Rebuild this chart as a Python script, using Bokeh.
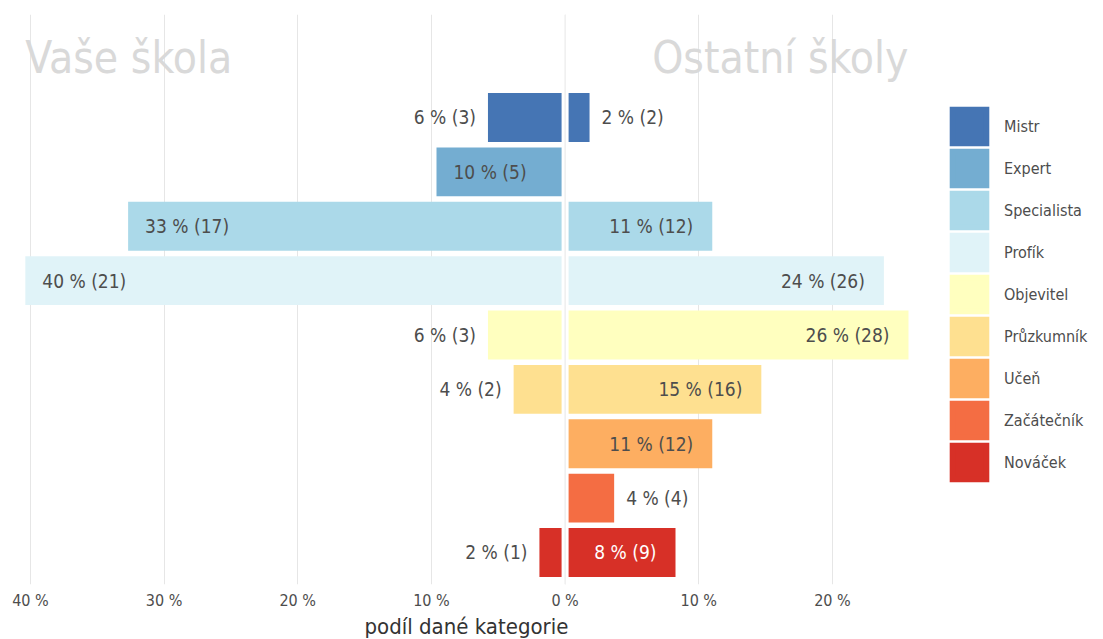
from bokeh.plotting import figure
from bokeh.models import ColumnDataSource, Range1d, FixedTicker, Legend, LegendItem, Span, Title
from bokeh.core.properties import value
from bokeh.embed import file_html
from bokeh.resources import INLINE

# ---- data -------------------------------------------------------------
categories = ["Mistr", "Expert", "Specialista", "Profík", "Objevitel",
              "Průzkumník", "Učeň", "Začátečník", "Nováček"]
colors = ["#4575b4", "#74add1", "#abd9e9", "#e0f3f8", "#ffffbf",
          "#fee090", "#fdae61", "#f46d43", "#d73027"]
school_counts = [3, 5, 17, 21, 3, 2, 0, 0, 1]
school_pct = [5.77, 9.62, 32.69, 40.38, 5.77, 3.85, 0.0, 0.0, 1.92]
others_counts = [2, 0, 12, 26, 28, 16, 12, 4, 9]
others_pct = [1.83, 0.0, 11.01, 23.85, 25.69, 14.68, 11.01, 3.67, 8.26]
panel_titles = ["Vaše škola", "Ostatní školy"]
x_ticks = [-40, -30, -20, -10, 0, 10, 20]
x_tick_labels = ["40 %", "30 %", "20 %", "10 %", "0 %", "10 %", "20 %"]
x_label = "podíl dané kategorie"
dark_categories = ["Nováček"]

# ---- style ------------------------------------------------------------
FONT = "DejaVu Sans Condensed, Roboto Condensed, Lato"
TXT = "#4d4d4d"
GRID = "#e6e6e6"
n = len(categories)
ypos = [n - i for i in range(n)]

p = figure(width=1100, height=639, output_backend="svg", toolbar_location=None,
           x_range=Range1d(-41.19, 39.68), y_range=Range1d(0.411, 10.894),
           min_border_left=14, min_border_right=5, min_border_top=14, min_border_bottom=55)
p.outline_line_color = None
p.background_fill_color = "white"
p.yaxis.visible = False
p.ygrid.grid_line_color = None
p.xgrid.grid_line_color = GRID
p.xgrid.grid_line_width = 1
p.xaxis.ticker = FixedTicker(ticks=x_ticks)
p.xaxis.major_label_overrides = {t: l for t, l in zip(x_ticks, x_tick_labels)}
p.xaxis.axis_line_color = None
p.xaxis.major_tick_line_color = None
p.xaxis.minor_tick_line_color = None
p.xaxis.major_tick_out = 0
p.xaxis.major_tick_in = 0
p.xaxis.major_label_standoff = 6
p.xaxis.major_label_text_font = FONT
p.xaxis.major_label_text_font_size = "16px"
p.xaxis.major_label_text_color = TXT

# x-axis caption, centred under the two data panels (not under the legend)
p.add_layout(Title(text=x_label, align="left", offset=350, standoff=0,
                   vertical_align="middle",
                   text_font=FONT, text_font_size="22px", text_font_style="normal",
                   text_color="#333333"), "below")

# ---- bars -------------------------------------------------------------
left_src = ColumnDataSource(dict(y=ypos, left=[-v for v in school_pct], right=[0] * n, color=colors))
right_src = ColumnDataSource(dict(y=ypos, left=[0] * n, right=others_pct, color=colors))
p.hbar(y="y", left="left", right="right", height=0.9, fill_color="color",
       line_color=None, source=left_src)
p.hbar(y="y", left="left", right="right", height=0.9, fill_color="color",
       line_color=None, source=right_src)
# hidden proxy renderer used only for the legend swatches
r_key = p.hbar(y="y", left="left", right="right", height=0.9, fill_color="color",
               line_color="color", line_width=6, line_join="miter",
               source=right_src, visible=False)

# white separation band at zero with the zero grid line on top
p.add_layout(Span(location=0, dimension="height", line_color="white", line_width=7))
p.add_layout(Span(location=0, dimension="height", line_color=GRID, line_width=1))

# ---- value labels -----------------------------------------------------
lx, ly, lt, la, lo, lc = [], [], [], [], [], []
for side, counts, pcts in ((-1, school_counts, school_pct), (1, others_counts, others_pct)):
    for i, (c, v) in enumerate(zip(counts, pcts)):
        if c == 0:
            continue
        inside = v >= 7
        lx.append(side * v)
        ly.append(ypos[i])
        lt.append(f"{round(v):d} % ({c})")
        if side < 0:
            la.append("left" if inside else "right")
            lo.append(17 if inside else -12)
        else:
            la.append("right" if inside else "left")
            lo.append(-19 if inside else 12)
        lc.append("white" if (inside and categories[i] in dark_categories) else TXT)
lab_src = ColumnDataSource(dict(x=lx, y=ly, text=lt, align=la, off=lo, color=lc))
p.text(x="x", y="y", text="text", text_align="align", x_offset="off",
       text_color="color", text_baseline="middle", text_font=value(FONT),
       text_font_size="19px", source=lab_src)

# ---- panel titles ----------------------------------------------------
title_src = ColumnDataSource(dict(
    x=[-max(school_pct), max(others_pct)], y=[10.1, 10.1],
    text=panel_titles, align=["left", "right"]))
p.text(x="x", y="y", text="text", text_align="align", text_baseline="middle",
       text_color="#d9d9d9", text_font=value(FONT), text_font_size="44px",
       source=title_src)

# ---- legend ------------------------------------------------------------
items = [LegendItem(label=cat, renderers=[r_key], index=i) for i, cat in enumerate(categories)]
legend = Legend(items=items, location=(934, 101), glyph_width=42, glyph_height=42,
                spacing=0, label_standoff=14, padding=0, margin=0,
                border_line_color=None, background_fill_alpha=0,
                label_text_font=FONT, label_text_font_size="16px",
                label_text_color=TXT)
p.add_layout(legend)

open("out.html", "w").write(file_html(p, INLINE))
